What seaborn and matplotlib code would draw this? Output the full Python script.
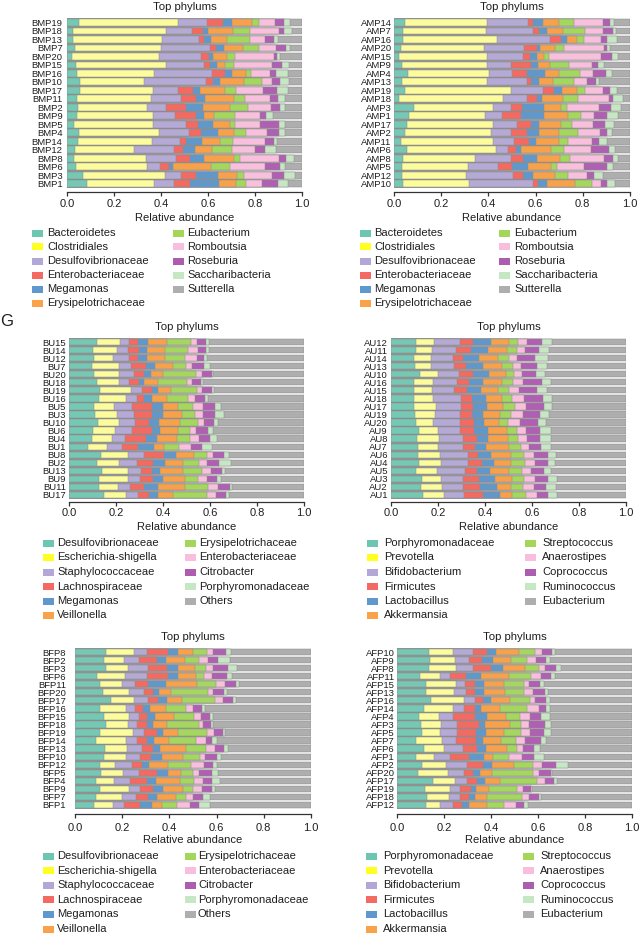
import matplotlib
matplotlib.use("Agg")
import matplotlib.pyplot as plt
from matplotlib.patches import Rectangle
import seaborn as sns

sns.set_theme(style="white")
plt.rcParams['font.family'] = ['Liberation Sans', 'DejaVu Sans']

# ---------------- data ----------------
taxa_p = ['Bacteroidetes', 'Clostridiales', 'Desulfovibrionaceae', 'Enterobacteriaceae', 'Megamonas',
          'Erysipelotrichaceae', 'Eubacterium', 'Romboutsia', 'Roseburia', 'Saccharibacteria', 'Sutterella']
taxa_b = ['Desulfovibrionaceae', 'Escherichia-shigella', 'Staphylococcaceae', 'Lachnospiraceae', 'Megamonas',
          'Veillonella', 'Erysipelotrichaceae', 'Enterobacteriaceae', 'Citrobacter', 'Porphyromonadaceae', 'Others']
taxa_a = ['Porphyromonadaceae', 'Prevotella', 'Bifidobacterium', 'Firmicutes', 'Lactobacillus',
          'Akkermansia', 'Streptococcus', 'Anaerostipes', 'Coprococcus', 'Ruminococcus', 'Eubacterium']

bmp_samples = ['BMP19', 'BMP18', 'BMP13', 'BMP7', 'BMP20', 'BMP15', 'BMP16', 'BMP10', 'BMP17', 'BMP11',
               'BMP2', 'BMP9', 'BMP5', 'BMP4', 'BMP14', 'BMP12', 'BMP8', 'BMP6', 'BMP3', 'BMP1']
amp_samples = ['AMP14', 'AMP7', 'AMP16', 'AMP20', 'AMP15', 'AMP9', 'AMP4', 'AMP13', 'AMP19', 'AMP18',
               'AMP3', 'AMP1', 'AMP17', 'AMP2', 'AMP11', 'AMP6', 'AMP8', 'AMP5', 'AMP12', 'AMP10']
bu_samples = ['BU15', 'BU14', 'BU12', 'BU7', 'BU20', 'BU18', 'BU19', 'BU16', 'BU5', 'BU3',
              'BU10', 'BU6', 'BU4', 'BU1', 'BU8', 'BU2', 'BU13', 'BU9', 'BU11', 'BU17']
au_samples = ['AU12', 'AU11', 'AU14', 'AU13', 'AU10', 'AU16', 'AU15', 'AU18', 'AU17', 'AU19',
              'AU20', 'AU9', 'AU8', 'AU7', 'AU6', 'AU4', 'AU5', 'AU3', 'AU2', 'AU1']
bfp_samples = ['BFP8', 'BFP2', 'BFP3', 'BFP6', 'BFP11', 'BFP20', 'BFP17', 'BFP16', 'BFP15', 'BFP18',
               'BFP19', 'BFP14', 'BFP13', 'BFP10', 'BFP12', 'BFP5', 'BFP4', 'BFP9', 'BFP7', 'BFP1']
afp_samples = ['AFP10', 'AFP9', 'AFP8', 'AFP11', 'AFP15', 'AFP13', 'AFP16', 'AFP14', 'AFP4', 'AFP3',
               'AFP5', 'AFP7', 'AFP6', 'AFP1', 'AFP2', 'AFP20', 'AFP17', 'AFP19', 'AFP18', 'AFP12']

# cumulative relative abundance at the right end of each of the first 10 taxa (last taxon fills to 1.0)
bmp_bounds = [
    [0.050, 0.471, 0.596, 0.664, 0.702, 0.787, 0.818, 0.884, 0.922, 0.950],
    [0.024, 0.421, 0.533, 0.577, 0.599, 0.705, 0.777, 0.902, 0.925, 0.957],
    [0.027, 0.403, 0.560, 0.584, 0.613, 0.681, 0.777, 0.844, 0.879, 0.896],
    [0.034, 0.400, 0.607, 0.635, 0.670, 0.748, 0.816, 0.891, 0.932, 0.950],
    [0.023, 0.390, 0.570, 0.604, 0.620, 0.681, 0.716, 0.879, 0.894, 0.908],
    [0.038, 0.420, 0.582, 0.610, 0.638, 0.671, 0.709, 0.872, 0.915, 0.943],
    [0.043, 0.369, 0.617, 0.674, 0.704, 0.763, 0.783, 0.862, 0.891, 0.939],
    [0.054, 0.329, 0.593, 0.621, 0.652, 0.752, 0.830, 0.872, 0.905, 0.943],
    [0.057, 0.366, 0.472, 0.536, 0.567, 0.671, 0.718, 0.833, 0.894, 0.939],
    [0.041, 0.357, 0.485, 0.549, 0.586, 0.709, 0.759, 0.862, 0.896, 0.929],
    [0.045, 0.342, 0.421, 0.508, 0.579, 0.695, 0.769, 0.868, 0.908, 0.929],
    [0.041, 0.366, 0.461, 0.549, 0.584, 0.624, 0.716, 0.820, 0.848, 0.877],
    [0.031, 0.366, 0.508, 0.557, 0.621, 0.692, 0.716, 0.820, 0.901, 0.929],
    [0.052, 0.390, 0.521, 0.572, 0.643, 0.709, 0.762, 0.851, 0.901, 0.929],
    [0.047, 0.362, 0.482, 0.508, 0.574, 0.652, 0.705, 0.841, 0.879, 0.894],
    [0.035, 0.284, 0.454, 0.492, 0.543, 0.617, 0.702, 0.801, 0.844, 0.891],
    [0.031, 0.336, 0.465, 0.525, 0.584, 0.709, 0.735, 0.901, 0.933, 0.965],
    [0.038, 0.340, 0.397, 0.433, 0.451, 0.613, 0.692, 0.844, 0.908, 0.929],
    [0.067, 0.416, 0.487, 0.549, 0.643, 0.723, 0.752, 0.872, 0.925, 0.972],
    [0.085, 0.369, 0.457, 0.525, 0.645, 0.721, 0.763, 0.830, 0.898, 0.939],
]
amp_bounds = [
    [0.047, 0.395, 0.569, 0.590, 0.630, 0.701, 0.763, 0.884, 0.915, 0.932],
    [0.040, 0.388, 0.590, 0.613, 0.650, 0.718, 0.810, 0.887, 0.927, 0.941],
    [0.040, 0.438, 0.661, 0.706, 0.734, 0.777, 0.805, 0.877, 0.904, 0.946],
    [0.028, 0.381, 0.552, 0.605, 0.619, 0.684, 0.720, 0.890, 0.904, 0.915],
    [0.023, 0.395, 0.545, 0.576, 0.605, 0.636, 0.658, 0.876, 0.922, 0.951],
    [0.035, 0.395, 0.494, 0.579, 0.612, 0.661, 0.742, 0.838, 0.866, 0.891],
    [0.058, 0.403, 0.499, 0.565, 0.641, 0.701, 0.788, 0.845, 0.898, 0.922],
    [0.034, 0.393, 0.562, 0.581, 0.616, 0.672, 0.764, 0.816, 0.856, 0.870],
    [0.047, 0.497, 0.630, 0.679, 0.710, 0.774, 0.809, 0.887, 0.915, 0.946],
    [0.020, 0.463, 0.565, 0.607, 0.629, 0.718, 0.778, 0.912, 0.929, 0.969],
    [0.083, 0.418, 0.496, 0.544, 0.636, 0.706, 0.732, 0.870, 0.918, 0.962],
    [0.065, 0.386, 0.456, 0.537, 0.637, 0.739, 0.791, 0.847, 0.901, 0.951],
    [0.056, 0.418, 0.523, 0.579, 0.613, 0.706, 0.753, 0.845, 0.894, 0.932],
    [0.047, 0.410, 0.496, 0.565, 0.613, 0.699, 0.781, 0.873, 0.901, 0.922],
    [0.031, 0.421, 0.510, 0.573, 0.600, 0.698, 0.739, 0.838, 0.870, 0.904],
    [0.054, 0.431, 0.482, 0.516, 0.538, 0.664, 0.722, 0.835, 0.912, 0.936],
    [0.040, 0.345, 0.494, 0.548, 0.607, 0.703, 0.746, 0.890, 0.929, 0.951],
    [0.034, 0.312, 0.442, 0.499, 0.569, 0.664, 0.692, 0.806, 0.901, 0.927],
    [0.032, 0.304, 0.503, 0.548, 0.590, 0.682, 0.736, 0.816, 0.847, 0.887],
    [0.040, 0.319, 0.588, 0.612, 0.647, 0.767, 0.838, 0.876, 0.904, 0.936],
]
bu_bounds = [
    [0.118, 0.217, 0.257, 0.295, 0.335, 0.416, 0.519, 0.543, 0.583, 0.596],
    [0.101, 0.206, 0.252, 0.299, 0.330, 0.408, 0.508, 0.550, 0.583, 0.597],
    [0.108, 0.186, 0.257, 0.295, 0.330, 0.408, 0.495, 0.543, 0.574, 0.589],
    [0.096, 0.214, 0.262, 0.326, 0.366, 0.441, 0.496, 0.522, 0.574, 0.600],
    [0.106, 0.214, 0.277, 0.319, 0.349, 0.401, 0.540, 0.565, 0.607, 0.614],
    [0.118, 0.214, 0.257, 0.298, 0.319, 0.380, 0.501, 0.525, 0.562, 0.572],
    [0.132, 0.262, 0.309, 0.352, 0.380, 0.434, 0.546, 0.567, 0.610, 0.618],
    [0.129, 0.242, 0.288, 0.321, 0.355, 0.416, 0.505, 0.536, 0.580, 0.593],
    [0.108, 0.193, 0.270, 0.355, 0.401, 0.465, 0.529, 0.569, 0.621, 0.645],
    [0.111, 0.206, 0.277, 0.355, 0.401, 0.479, 0.536, 0.569, 0.621, 0.660],
    [0.125, 0.214, 0.281, 0.342, 0.384, 0.472, 0.550, 0.574, 0.618, 0.635],
    [0.101, 0.196, 0.267, 0.352, 0.387, 0.462, 0.515, 0.540, 0.593, 0.614],
    [0.096, 0.182, 0.240, 0.326, 0.376, 0.458, 0.515, 0.553, 0.600, 0.628],
    [0.082, 0.163, 0.224, 0.295, 0.362, 0.406, 0.468, 0.518, 0.565, 0.610],
    [0.136, 0.252, 0.319, 0.406, 0.455, 0.533, 0.589, 0.614, 0.660, 0.682],
    [0.118, 0.214, 0.288, 0.359, 0.409, 0.487, 0.555, 0.589, 0.638, 0.689],
    [0.139, 0.252, 0.306, 0.352, 0.387, 0.484, 0.565, 0.603, 0.650, 0.664],
    [0.128, 0.250, 0.302, 0.359, 0.401, 0.494, 0.550, 0.586, 0.628, 0.647],
    [0.128, 0.210, 0.260, 0.321, 0.380, 0.494, 0.590, 0.635, 0.685, 0.692],
    [0.149, 0.243, 0.295, 0.342, 0.377, 0.444, 0.589, 0.626, 0.668, 0.682],
]
au_bounds = [
    [0.106, 0.183, 0.294, 0.348, 0.426, 0.504, 0.542, 0.580, 0.641, 0.684],
    [0.105, 0.176, 0.277, 0.340, 0.414, 0.492, 0.535, 0.569, 0.631, 0.674],
    [0.098, 0.169, 0.262, 0.307, 0.376, 0.454, 0.502, 0.537, 0.613, 0.667],
    [0.102, 0.169, 0.270, 0.318, 0.393, 0.471, 0.518, 0.552, 0.620, 0.662],
    [0.123, 0.201, 0.291, 0.350, 0.418, 0.488, 0.523, 0.556, 0.617, 0.657],
    [0.098, 0.180, 0.279, 0.332, 0.393, 0.471, 0.521, 0.560, 0.641, 0.681],
    [0.098, 0.173, 0.270, 0.322, 0.382, 0.457, 0.502, 0.545, 0.620, 0.662],
    [0.098, 0.180, 0.296, 0.343, 0.404, 0.471, 0.516, 0.566, 0.645, 0.684],
    [0.098, 0.190, 0.296, 0.350, 0.410, 0.478, 0.528, 0.574, 0.651, 0.687],
    [0.102, 0.187, 0.294, 0.343, 0.393, 0.464, 0.509, 0.560, 0.634, 0.674],
    [0.106, 0.180, 0.294, 0.353, 0.396, 0.460, 0.499, 0.549, 0.627, 0.660],
    [0.119, 0.201, 0.294, 0.353, 0.411, 0.495, 0.535, 0.574, 0.634, 0.679],
    [0.112, 0.204, 0.305, 0.365, 0.414, 0.496, 0.542, 0.580, 0.634, 0.681],
    [0.116, 0.199, 0.305, 0.357, 0.404, 0.504, 0.552, 0.589, 0.638, 0.681],
    [0.113, 0.209, 0.326, 0.372, 0.424, 0.511, 0.566, 0.609, 0.667, 0.702],
    [0.121, 0.211, 0.326, 0.386, 0.440, 0.511, 0.570, 0.613, 0.670, 0.698],
    [0.106, 0.197, 0.315, 0.367, 0.421, 0.504, 0.556, 0.596, 0.651, 0.681],
    [0.130, 0.211, 0.305, 0.376, 0.443, 0.516, 0.567, 0.613, 0.667, 0.705],
    [0.128, 0.216, 0.308, 0.379, 0.450, 0.511, 0.560, 0.609, 0.660, 0.701],
    [0.135, 0.227, 0.312, 0.390, 0.464, 0.516, 0.574, 0.620, 0.670, 0.708],
]
bfp_bounds = [
    [0.133, 0.249, 0.307, 0.392, 0.438, 0.501, 0.561, 0.584, 0.640, 0.660],
    [0.123, 0.207, 0.272, 0.346, 0.385, 0.467, 0.527, 0.565, 0.608, 0.657],
    [0.133, 0.225, 0.310, 0.388, 0.438, 0.508, 0.554, 0.586, 0.650, 0.688],
    [0.093, 0.212, 0.303, 0.392, 0.438, 0.511, 0.548, 0.582, 0.643, 0.664],
    [0.108, 0.200, 0.253, 0.310, 0.385, 0.516, 0.596, 0.636, 0.683, 0.693],
    [0.119, 0.229, 0.292, 0.331, 0.357, 0.405, 0.565, 0.586, 0.632, 0.643],
    [0.152, 0.249, 0.310, 0.353, 0.391, 0.453, 0.593, 0.626, 0.669, 0.683],
    [0.105, 0.218, 0.256, 0.289, 0.317, 0.384, 0.470, 0.499, 0.537, 0.552],
    [0.123, 0.229, 0.271, 0.307, 0.341, 0.419, 0.506, 0.533, 0.572, 0.586],
    [0.130, 0.225, 0.263, 0.307, 0.329, 0.388, 0.525, 0.541, 0.575, 0.586],
    [0.108, 0.246, 0.293, 0.346, 0.374, 0.438, 0.558, 0.591, 0.625, 0.636],
    [0.091, 0.214, 0.263, 0.307, 0.334, 0.399, 0.513, 0.555, 0.582, 0.603],
    [0.129, 0.221, 0.282, 0.329, 0.360, 0.469, 0.555, 0.593, 0.633, 0.647],
    [0.123, 0.218, 0.275, 0.324, 0.367, 0.459, 0.530, 0.551, 0.601, 0.618],
    [0.105, 0.169, 0.242, 0.285, 0.313, 0.395, 0.490, 0.547, 0.584, 0.601],
    [0.109, 0.204, 0.271, 0.346, 0.395, 0.448, 0.499, 0.527, 0.582, 0.608],
    [0.091, 0.166, 0.232, 0.307, 0.343, 0.445, 0.504, 0.541, 0.582, 0.615],
    [0.105, 0.229, 0.275, 0.331, 0.374, 0.459, 0.501, 0.537, 0.579, 0.593],
    [0.088, 0.201, 0.258, 0.310, 0.348, 0.426, 0.470, 0.499, 0.541, 0.572],
    [0.081, 0.159, 0.208, 0.275, 0.327, 0.370, 0.431, 0.487, 0.527, 0.572],
]
afp_bounds = [
    [0.136, 0.238, 0.323, 0.383, 0.420, 0.518, 0.586, 0.618, 0.660, 0.674],
    [0.139, 0.245, 0.306, 0.363, 0.409, 0.487, 0.553, 0.590, 0.633, 0.650],
    [0.136, 0.252, 0.323, 0.399, 0.451, 0.543, 0.604, 0.631, 0.675, 0.696],
    [0.099, 0.184, 0.227, 0.295, 0.359, 0.477, 0.572, 0.611, 0.657, 0.671],
    [0.125, 0.250, 0.291, 0.333, 0.370, 0.454, 0.540, 0.562, 0.610, 0.624],
    [0.122, 0.241, 0.292, 0.333, 0.370, 0.461, 0.539, 0.579, 0.631, 0.643],
    [0.146, 0.285, 0.330, 0.366, 0.401, 0.479, 0.564, 0.586, 0.635, 0.650],
    [0.115, 0.238, 0.285, 0.333, 0.359, 0.437, 0.555, 0.603, 0.635, 0.650],
    [0.092, 0.179, 0.238, 0.333, 0.383, 0.465, 0.522, 0.567, 0.614, 0.652],
    [0.104, 0.189, 0.257, 0.349, 0.376, 0.482, 0.526, 0.562, 0.631, 0.657],
    [0.108, 0.184, 0.257, 0.338, 0.380, 0.455, 0.529, 0.565, 0.624, 0.657],
    [0.082, 0.193, 0.250, 0.335, 0.366, 0.441, 0.508, 0.543, 0.611, 0.633],
    [0.113, 0.200, 0.281, 0.340, 0.380, 0.468, 0.511, 0.536, 0.582, 0.607],
    [0.079, 0.157, 0.227, 0.306, 0.370, 0.408, 0.475, 0.533, 0.583, 0.624],
    [0.106, 0.207, 0.298, 0.366, 0.406, 0.498, 0.579, 0.619, 0.675, 0.728],
    [0.089, 0.217, 0.285, 0.323, 0.352, 0.404, 0.579, 0.603, 0.654, 0.661],
    [0.153, 0.248, 0.298, 0.340, 0.373, 0.437, 0.597, 0.628, 0.668, 0.682],
    [0.121, 0.227, 0.267, 0.313, 0.338, 0.390, 0.512, 0.536, 0.572, 0.576],
    [0.128, 0.220, 0.267, 0.306, 0.333, 0.384, 0.533, 0.562, 0.603, 0.611],
    [0.122, 0.184, 0.238, 0.278, 0.305, 0.384, 0.455, 0.508, 0.540, 0.557],
]

bar_colors = ['#74C8B4', '#FCFC9C', '#B5A9D6', '#F26A62', '#6198CB', '#F7A24B',
              '#A5D65E', '#F8C0DC', '#AF60B2', '#C7E7C4', '#AEAEAE']
legend_colors = ['#6CC6B2', '#FFFF22', '#B3A7D8', '#F36A62', '#5F98CD', '#F9A24A',
                 '#A4D65A', '#F9BEDD', '#AE5CB0', '#C5E7C1', '#AEAEAE']

W, H = 640, 936
fig = plt.figure(figsize=(W / 100, H / 100), dpi=100)

def fx(px):
    return px / W

def fy(py):
    return 1 - py / H

TXT = '#1f1f1f'

panels = [
    dict(s=bmp_samples, b=bmp_bounds, taxa=taxa_p, l=67, r=302, t=18.1, bt=188.0, off=4, ylpad=4.5,
         xpad=2.2, title_y=7.3, ra_y=217.5,
         leg=dict(sq1=32, tx1=47, sq2=173, tx2=187, y0=233, dy=14.0)),
    dict(s=amp_samples, b=amp_bounds, taxa=taxa_p, l=394, r=630, t=18.1, bt=188.0, off=4, ylpad=2.3,
         xpad=2.2, title_y=6.8, ra_y=218.0,
         leg=dict(sq1=360, tx1=374, sq2=499, tx2=514, y0=233, dy=14.0)),
    dict(s=bu_samples, b=bu_bounds, taxa=taxa_b, l=69, r=304, t=338.1, bt=498.9, off=3, ylpad=3.0,
         xpad=1.8, title_y=326.7, ra_y=527.5,
         leg=dict(sq1=43, tx1=57, sq2=185, tx2=199, y0=543, dy=14.5)),
    dict(s=au_samples, b=au_bounds, taxa=taxa_a, l=391, r=626, t=338.1, bt=498.9, off=3, ylpad=3.0,
         xpad=1.8, title_y=326.7, ra_y=527.5,
         leg=dict(sq1=367, tx1=384, sq2=525, tx2=542, y0=543, dy=14.5)),
    dict(s=bfp_samples, b=bfp_bounds, taxa=taxa_b, l=75, r=311, t=648.1, bt=808.9, off=5, ylpad=9.0,
         xpad=3.6, title_y=636.7, ra_y=840.0,
         leg=dict(sq1=43, tx1=57, sq2=185, tx2=198, y0=856, dy=14.6)),
    dict(s=afp_samples, b=afp_bounds, taxa=taxa_a, l=397, r=632, t=648.1, bt=808.9, off=5, ylpad=2.3,
         xpad=3.6, title_y=636.7, ra_y=840.0,
         leg=dict(sq1=366, tx1=383, sq2=523, tx2=540, y0=856, dy=14.6)),
]

for p in panels:
    ax = fig.add_axes([fx(p['l']), fy(p['bt']), fx(p['r']) - fx(p['l']), (p['bt'] - p['t']) / H])
    n_layers = len(p['taxa'])
    for k in range(n_layers - 1, -1, -1):
        ends = [row[k] if k < len(row) else 1.0 for row in p['b']]
        sns.barplot(x=ends, y=p['s'], orient='h', color=bar_colors[k], saturation=1,
                    width=0.78, edgecolor='#8c8c8c', linewidth=0.35, errorbar=None, ax=ax)
    ax.set_xlim(0, 1.0)
    ax.set_ylim(len(p['s']) - 0.5, -0.5)
    ax.set_xlabel('')
    ax.set_ylabel('')
    for sp in ['left', 'right', 'top']:
        ax.spines[sp].set_visible(False)
    ax.spines['bottom'].set_position(('outward', p['off'] * 0.72))
    ax.spines['bottom'].set_color('#333333')
    ax.spines['bottom'].set_linewidth(0.9)
    ticks = [0.0, 0.2, 0.4, 0.6, 0.8, 1.0]
    ax.set_xticks(ticks)
    ax.set_xticklabels([f'{t:.1f}' for t in ticks])
    ax.tick_params(axis='x', bottom=True, length=2.9, width=0.9, color='#333333',
                   pad=p['xpad'], labelsize=8, labelcolor=TXT)
    ax.tick_params(axis='y', left=False, length=0, pad=p['ylpad'] * 0.72, labelsize=6.8, labelcolor=TXT)
    ax.grid(False)
    cx = (p['l'] + p['r']) / 2
    fig.text(fx(cx), fy(p['title_y']), 'Top phylums', ha='center', va='center', fontsize=8.2, color=TXT)
    fig.text(fx(cx), fy(p['ra_y']), 'Relative abundance', ha='center', va='center', fontsize=8, color=TXT)
    lg = p['leg']
    for i, name in enumerate(p['taxa']):
        col = 0 if i < 6 else 1
        row = i if i < 6 else i - 6
        yc = lg['y0'] + row * lg['dy']
        sqx = lg['sq1'] if col == 0 else lg['sq2']
        txx = lg['tx1'] if col == 0 else lg['tx2']
        fig.patches.append(Rectangle((fx(sqx), fy(yc + 3.5)), 11 / W, 7 / H, transform=fig.transFigure,
                                     facecolor=legend_colors[i], edgecolor='none'))
        fig.text(fx(txx), fy(yc), name, ha='left', va='center', fontsize=8, color=TXT)

fig.text(fx(7), fy(322), 'G', ha='center', va='center', fontsize=12, color=TXT)

fig.savefig('out.png', dpi=100)
